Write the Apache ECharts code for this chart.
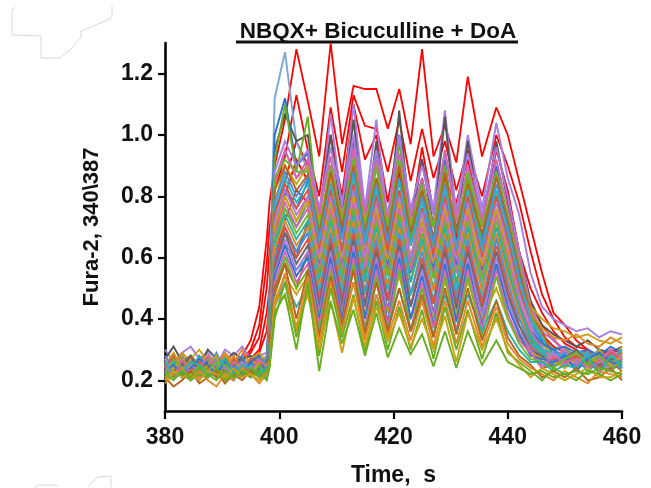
<!DOCTYPE html>
<html><head><meta charset="utf-8">
<style>html,body{margin:0;padding:0;background:#fff}#c{width:651px;height:488px;filter:blur(0.55px)}</style>
<script src="https://cdn.jsdelivr.net/npm/echarts@6/dist/echarts.min.js"></script>
</head><body><div id="c"></div>
<script>
const titleText = 'NBQX+ Bicuculline + DoA';
const xName = 'Time,  s';
const yName = 'Fura-2, 340\\387';
const yTicks = [0.2,0.4,0.6,0.8,1.0,1.2];
const xTicks = [380,400,420,440,460];
const times = [380,381.5,383,384.5,386,387.5,389,390.5,392,393.5,395,396.5,397.8,398.3,399.2,401,403,405,407,409,411,413,415,417,419,421,423,425,427,429,431,433,435.5,438,440,442,444,446,448,450,452,454,456,458,460];

const red1 = [.24,.25,.22,.26,.24,.25,.23,.27,.25,.28,.33,.44,.66,.78,.9,1.05,1.28,1.11,.93,1.30,.97,1.16,1.15,1.15,1.02,1.15,.97,1.28,.93,1.03,.91,1.19,.93,1.09,1.0,.85,.7,.55,.42,.38,.33,.3,.28,.3,.29];
const red2 = [.22,.24,.26,.23,.25,.22,.24,.23,.26,.27,.3,.38,.58,.7,.82,.93,1.13,.95,.8,1.09,.88,1.13,1.03,1.02,.88,1.05,.85,1.02,.86,.98,.82,.95,.8,1.0,.9,.78,.62,.48,.4,.34,.31,.3,.27,.29,.28];
const red3 = [.25,.23,.24,.27,.24,.26,.25,.28,.24,.26,.29,.34,.5,.62,.75,.85,.98,.9,.75,1.0,.8,1.1,.92,1.0,.78,1.0,.72,.96,.75,.85,.78,.92,.72,.95,.82,.62,.5,.42,.36,.32,.3,.27,.28,.26,.27];
const red4 = [.21,.23,.22,.25,.23,.22,.24,.22,.24,.25,.27,.3,.42,.5,.68,.8,.92,.85,.62,.9,.7,.95,.75,.9,.68,.88,.65,.85,.6,.88,.66,.85,.62,.88,.7,.55,.45,.38,.33,.3,.28,.26,.25,.27,.26];
const red5 = [.23,.22,.25,.24,.22,.24,.23,.25,.26,.24,.26,.29,.36,.45,.6,.72,.82,.78,.55,.8,.6,.85,.66,.82,.6,.78,.58,.75,.55,.78,.6,.8,.56,.8,.66,.5,.42,.35,.31,.29,.27,.28,.25,.26,.27];

const hi1 = [.26,.24,.28,.25,.23,.27,.24,.26,.24,.27,.25,.26,.28,.5,1.12,1.27,.98,.88,.62,.85,.6,.9,.6,.85,.58,.82,.58,.8,.56,.76,.55,.74,.52,.72,.58,.42,.34,.3,.28,.26,.28,.25,.27,.26,.24];
const hi2 = [.3,.26,.29,.31,.27,.29,.25,.3,.28,.31,.27,.28,.29,.4,.85,.95,.86,.9,.72,1.07,.76,1.1,.76,1.05,.72,1.0,.74,.92,.76,1.08,.74,1.0,.76,1.04,.86,.74,.55,.44,.4,.38,.36,.37,.34,.36,.35];
const hi3 = [.27,.31,.26,.28,.25,.3,.27,.26,.29,.27,.28,.26,.27,.38,.95,1.07,.98,1.0,.74,1.0,.72,1.05,.7,.98,.68,1.08,.7,.92,.7,1.06,.68,.98,.7,.98,.78,.62,.46,.38,.35,.33,.31,.33,.3,.29,.31];
const hi4 = [.23,.25,.22,.24,.26,.23,.25,.24,.22,.25,.24,.23,.26,.45,1.0,1.12,.9,.94,.68,.9,.7,.98,.68,.95,.66,1.0,.68,.86,.66,.92,.64,.88,.66,.9,.72,.55,.42,.33,.3,.27,.25,.27,.24,.26,.25];
const hi5 = [.22,.24,.21,.26,.23,.25,.22,.24,.25,.23,.26,.24,.25,.42,.92,1.1,.88,1.06,.7,.88,.68,.95,.66,.9,.64,.98,.66,.82,.64,.85,.62,.86,.65,.82,.68,.52,.4,.32,.28,.26,.27,.24,.25,.23,.26];

const mid01 = [.24,.27,.25,.23,.28,.25,.26,.24,.27,.25,.23,.26,.25,.36,.88,.98,.9,.95,.76,.96,.78,1.0,.76,.95,.74,1.0,.76,.9,.74,.95,.76,.94,.74,.96,.8,.62,.44,.36,.33,.3,.28,.3,.27,.29,.28];
const mid02 = [.26,.23,.27,.24,.22,.26,.28,.23,.25,.24,.27,.25,.23,.34,.84,.95,.86,.92,.74,.93,.72,.96,.74,.92,.72,.94,.73,.86,.7,.95,.72,.9,.72,.92,.76,.6,.43,.35,.34,.28,.29,.27,.26,.3,.27];
const mid03 = [.25,.22,.24,.28,.25,.23,.27,.25,.23,.26,.24,.28,.24,.33,.86,.92,.88,.88,.7,.9,.72,.92,.7,.9,.7,.92,.7,.84,.7,.9,.68,.88,.7,.88,.74,.58,.42,.34,.3,.31,.27,.26,.29,.27,.3];
const mid04 = [.21,.25,.23,.26,.24,.21,.25,.27,.24,.22,.25,.23,.26,.35,.82,.9,.82,.87,.68,.88,.7,.9,.68,.86,.67,.9,.68,.82,.66,.88,.68,.84,.68,.86,.72,.56,.42,.36,.28,.27,.3,.25,.28,.26,.29];
const mid05 = [.28,.24,.26,.22,.27,.24,.29,.23,.26,.28,.22,.25,.27,.32,.78,.88,.8,.86,.66,.84,.66,.88,.66,.84,.65,.86,.64,.8,.65,.84,.64,.82,.64,.84,.7,.54,.4,.32,.3,.28,.26,.29,.25,.27,.28];
const mid06 = [.23,.26,.22,.25,.27,.23,.21,.26,.24,.27,.23,.24,.22,.31,.76,.86,.78,.84,.64,.84,.63,.86,.64,.82,.62,.85,.64,.78,.62,.82,.63,.82,.62,.82,.68,.52,.4,.34,.27,.29,.28,.25,.3,.26,.27];
const mid07 = [.24,.21,.26,.28,.23,.25,.24,.22,.27,.24,.26,.22,.25,.34,.74,.84,.76,.82,.62,.82,.62,.84,.61,.8,.62,.82,.6,.76,.61,.8,.6,.8,.6,.8,.66,.5,.38,.3,.29,.26,.27,.3,.26,.28,.25];
const mid08 = [.22,.25,.27,.24,.2,.26,.23,.25,.22,.26,.24,.27,.23,.3,.72,.82,.74,.8,.6,.8,.59,.82,.6,.78,.58,.8,.6,.75,.58,.78,.59,.78,.58,.78,.64,.48,.38,.31,.26,.28,.29,.27,.24,.29,.26];
const mid09 = [.27,.23,.25,.21,.26,.28,.24,.26,.21,.25,.27,.24,.26,.32,.7,.8,.72,.78,.58,.78,.58,.8,.57,.76,.58,.78,.56,.72,.57,.76,.56,.76,.57,.76,.62,.46,.36,.32,.28,.25,.27,.26,.29,.26,.31];
const mid10 = [.23,.27,.24,.26,.22,.24,.27,.22,.25,.23,.21,.26,.24,.3,.68,.78,.7,.76,.56,.76,.56,.78,.56,.74,.55,.76,.56,.7,.54,.74,.55,.74,.54,.74,.6,.46,.36,.3,.27,.3,.25,.28,.27,.24,.27];
const mid11 = [.25,.22,.28,.23,.25,.27,.21,.24,.27,.22,.25,.23,.22,.29,.66,.76,.68,.74,.54,.74,.54,.76,.53,.72,.54,.74,.52,.68,.53,.72,.52,.72,.53,.72,.58,.44,.34,.28,.26,.27,.28,.24,.28,.27,.25];
const mid12 = [.2,.24,.26,.22,.28,.23,.25,.27,.23,.26,.22,.27,.25,.31,.65,.74,.66,.72,.52,.72,.52,.74,.52,.7,.51,.72,.52,.66,.5,.7,.51,.7,.5,.7,.56,.44,.34,.3,.25,.28,.26,.29,.25,.28,.26];
const mid13 = [.26,.24,.22,.27,.21,.25,.26,.23,.28,.24,.23,.25,.21,.28,.63,.72,.64,.7,.5,.7,.5,.72,.49,.68,.5,.7,.48,.64,.49,.68,.48,.68,.49,.68,.54,.42,.32,.27,.28,.24,.29,.27,.26,.25,.29];
const mid14 = [.22,.26,.23,.25,.24,.22,.28,.21,.24,.26,.25,.22,.27,.3,.6,.7,.62,.68,.48,.68,.48,.7,.48,.66,.47,.68,.48,.62,.46,.66,.47,.66,.46,.66,.52,.4,.32,.28,.25,.29,.24,.27,.3,.26,.24];
const mid15 = [.24,.28,.21,.23,.26,.24,.22,.26,.23,.21,.27,.26,.23,.29,.58,.7,.6,.66,.46,.66,.46,.68,.45,.64,.46,.66,.44,.6,.45,.64,.44,.64,.45,.64,.5,.38,.31,.26,.27,.26,.28,.25,.24,.29,.27];
const mid16 = [.21,.23,.25,.28,.22,.26,.24,.23,.25,.27,.22,.24,.26,.28,.56,.68,.58,.64,.44,.64,.44,.66,.44,.62,.43,.64,.44,.58,.42,.62,.43,.62,.42,.62,.48,.38,.3,.28,.24,.27,.3,.26,.25,.27,.26];
const mid17 = [.27,.22,.24,.25,.23,.21,.27,.24,.22,.26,.24,.21,.25,.27,.55,.66,.56,.62,.42,.62,.42,.64,.41,.6,.42,.62,.4,.56,.41,.6,.4,.6,.41,.6,.46,.36,.3,.25,.29,.25,.26,.28,.27,.23,.28];
const mid18 = [.23,.25,.22,.24,.27,.25,.22,.26,.24,.22,.26,.28,.22,.29,.54,.64,.54,.6,.4,.6,.4,.62,.4,.58,.39,.6,.4,.54,.38,.58,.39,.58,.38,.58,.44,.35,.28,.27,.26,.28,.23,.27,.29,.26,.25];
const mid19 = [.25,.21,.27,.22,.24,.28,.23,.21,.26,.25,.23,.27,.24,.27,.52,.62,.52,.58,.38,.58,.38,.6,.37,.56,.38,.58,.36,.52,.37,.56,.36,.56,.37,.56,.42,.33,.29,.24,.28,.26,.27,.24,.26,.3,.27];
const mid20 = [.22,.27,.24,.21,.25,.23,.26,.25,.22,.24,.21,.25,.22,.26,.5,.6,.5,.56,.36,.56,.36,.58,.36,.54,.35,.56,.36,.5,.34,.54,.35,.54,.34,.54,.4,.32,.27,.26,.24,.27,.29,.25,.28,.24,.26];
const mid21 = [.24,.22,.25,.27,.21,.24,.22,.27,.23,.21,.25,.22,.25,.28,.56,.64,.6,.72,.55,.7,.57,.74,.55,.72,.56,.74,.55,.68,.54,.72,.56,.7,.54,.7,.56,.42,.33,.28,.27,.25,.28,.26,.23,.27,.29];
const mid22 = [.21,.26,.23,.25,.22,.27,.24,.23,.21,.27,.23,.26,.21,.27,.7,.82,.76,.85,.66,.82,.68,.86,.64,.82,.66,.8,.64,.76,.62,.82,.64,.78,.64,.8,.66,.5,.38,.33,.3,.26,.25,.29,.28,.25,.27];
const mid23 = [.26,.24,.21,.23,.26,.22,.25,.21,.24,.23,.26,.21,.24,.28,.62,.76,.7,.78,.6,.76,.6,.78,.59,.74,.6,.76,.58,.72,.59,.74,.58,.74,.6,.74,.6,.46,.35,.29,.26,.29,.27,.23,.26,.28,.24];
const mid24 = [.22,.23,.26,.21,.24,.25,.21,.24,.27,.22,.24,.22,.23,.26,.48,.58,.5,.62,.44,.64,.46,.64,.44,.6,.46,.62,.44,.58,.45,.62,.46,.62,.44,.6,.47,.36,.29,.24,.25,.28,.24,.27,.25,.26,.23];
const mid25 = [.25,.29,.24,.27,.3,.26,.24,.28,.25,.23,.27,.29,.26,.31,.78,.9,.84,.9,.72,.86,.74,.88,.72,.84,.7,.84,.72,.78,.7,.84,.72,.82,.72,.8,.72,.58,.44,.4,.37,.36,.34,.35,.33,.32,.34];
const mid26 = [.27,.25,.29,.26,.24,.28,.25,.29,.26,.3,.25,.27,.24,.3,.66,.8,.72,.8,.64,.78,.66,.8,.64,.76,.62,.78,.64,.74,.62,.76,.64,.76,.62,.74,.64,.52,.42,.37,.34,.33,.35,.32,.31,.34,.32];
const mid27 = [.23,.21,.25,.22,.26,.24,.27,.22,.2,.24,.26,.23,.26,.28,.58,.68,.62,.7,.58,.68,.58,.7,.57,.66,.58,.68,.56,.64,.57,.68,.58,.66,.56,.66,.56,.44,.36,.32,.3,.31,.29,.3,.28,.31,.29];
const mid28 = [.24,.26,.21,.25,.23,.22,.26,.25,.23,.22,.25,.24,.21,.27,.5,.6,.56,.6,.5,.58,.5,.62,.48,.58,.5,.6,.48,.56,.47,.58,.5,.58,.48,.56,.46,.38,.32,.3,.29,.27,.3,.28,.29,.27,.3];
const mid29 = [.21,.24,.27,.23,.22,.25,.28,.2,.26,.24,.22,.26,.25,.26,.46,.54,.48,.54,.42,.54,.42,.56,.42,.52,.42,.54,.4,.5,.4,.52,.42,.52,.4,.5,.4,.34,.29,.27,.26,.24,.27,.25,.3,.25,.28];
const mid30 = [.26,.22,.23,.26,.25,.21,.23,.27,.22,.25,.24,.22,.24,.27,.44,.52,.44,.5,.36,.5,.38,.52,.36,.48,.37,.5,.36,.46,.35,.48,.36,.48,.36,.46,.36,.3,.26,.26,.23,.25,.24,.28,.22,.28,.25];

const low1 = [.22,.2,.23,.21,.24,.22,.2,.23,.21,.22,.24,.21,.23,.25,.42,.48,.3,.52,.23,.455,.32,.43,.28,.42,.275,.37,.285,.35,.245,.36,.24,.36,.25,.33,.26,.24,.22,.23,.21,.22,.23,.22,.24,.23,.22];
const low2 = [.2,.23,.21,.22,.2,.23,.22,.21,.24,.21,.22,.2,.23,.26,.47,.47,.38,.48,.3,.46,.29,.47,.31,.44,.33,.42,.31,.4,.3,.41,.26,.42,.3,.4,.3,.25,.21,.24,.22,.2,.22,.24,.21,.21,.23];
const low3 = [.23,.21,.22,.2,.22,.21,.24,.2,.22,.23,.21,.23,.2,.24,.4,.52,.34,.5,.28,.5,.34,.48,.29,.46,.3,.44,.3,.43,.27,.44,.3,.43,.27,.42,.29,.26,.23,.2,.24,.22,.2,.23,.22,.2,.22];
const low4 = [.19,.22,.24,.2,.23,.2,.18,.22,.2,.24,.22,.19,.22,.25,.44,.55,.36,.54,.32,.52,.36,.52,.33,.48,.34,.46,.33,.46,.31,.46,.32,.46,.31,.44,.32,.27,.24,.22,.2,.23,.21,.19,.23,.22,.21];
const low5 = [.21,.18,.2,.23,.19,.21,.23,.19,.22,.2,.23,.21,.22,.27,.5,.58,.4,.56,.34,.54,.38,.56,.35,.52,.36,.5,.36,.48,.34,.5,.35,.5,.33,.46,.34,.28,.25,.21,.23,.21,.24,.2,.21,.24,.2];

const redTraces = [red1,red2,red3,red4,red5];
const otherTraces = [hi1,hi2,hi3,hi4,hi5,mid01,mid25,mid22,mid02,mid03,mid23,mid04,mid26,mid05,mid06,mid07,mid21,mid08,mid09,mid27,mid10,mid11,mid12,mid24,mid13,mid14,mid28,mid15,mid16,mid17,mid29,mid18,mid19,mid20,mid30,low5,low4,low3,low2,low1];
const hiColors = ['#7aa9d8','#a67fe0','#555555','#2f6fd0','#68ad20'];
const palette = ['#e0892a','#4a90d9','#2ab5c4','#e0523f','#6a6a6a','#a87de0','#c9a214','#2f73d6','#d565b0','#72b52c','#25b3a8','#b5651d'];
const redColor = '#ff0000';

const line = (d,color,w) => ({type:'line',data:d.map((v,i)=>[times[i],v]),showSymbol:false,silent:true,
  lineStyle:{color,width:w,join:'miter',miterLimit:3},itemStyle:{color},clip:true});
const series = [
  ...redTraces.map(d=>line(d,redColor,1.8)),
  ...otherTraces.map((d,i)=>{
    let c = i<hiColors.length ? hiColors[i] : palette[i%palette.length];
    if(d===low1||d===low3) c='#68ad20';
    if(d===low2) c='#c9a214';
    return line(d,c,1.9);
  })
];
const ghost = {stroke:'#d8d8d8',fill:'none',lineWidth:1};
const chart = echarts.init(document.getElementById('c'),null,{renderer:'canvas'});
chart.setOption({
  animation:false,backgroundColor:'#fff',
  title:{text:titleText,left:373,top:15,textAlign:'center',textStyle:{fontFamily:'Liberation Sans',fontWeight:'bold',fontSize:22.5,color:'#111'}},
  grid:{left:165,right:29,top:43,bottom:77,outerBoundsMode:'none'},
  xAxis:{type:'value',min:380,max:460,interval:20,name:xName,nameLocation:'middle',nameGap:53,
    nameTextStyle:{fontFamily:'Liberation Sans',fontWeight:'bold',fontSize:23,color:'#111'},
    axisLine:{show:true,onZero:false,lineStyle:{color:'#000',width:2.6}},
    axisTick:{show:true,length:8,lineStyle:{color:'#000',width:2.2},customValues:xTicks},
    axisLabel:{customValues:xTicks,margin:15,fontFamily:'Liberation Sans',fontWeight:'bold',fontSize:23,color:'#111'},
    splitLine:{show:false}},
  yAxis:{type:'value',min:0.1,max:1.3,name:yName,nameLocation:'middle',nameGap:62,nameRotate:90,
    nameTextStyle:{fontFamily:'Liberation Sans',fontWeight:'bold',fontSize:22,color:'#111'},
    axisLine:{show:true,onZero:false,lineStyle:{color:'#000',width:2.6}},
    axisTick:{show:true,length:7,lineStyle:{color:'#000',width:2.2},customValues:yTicks},
    axisLabel:{customValues:yTicks,margin:12,fontFamily:'Liberation Sans',fontWeight:'bold',fontSize:23,color:'#111',formatter:v=>v.toFixed(1)},
    splitLine:{show:false}},
  graphic:[
    {type:'line',shape:{x1:236,y1:42,x2:518,y2:42},style:{stroke:'#111',lineWidth:3}},
    {type:'polyline',shape:{points:[[15,7],[12,10],[12,35],[41,36],[41,58],[60,58],[70,50],[81,37],[81,31],[110,19],[112,16],[112,6]]},style:ghost},
    {type:'polyline',shape:{points:[[35,487],[38,485],[56,485],[58,487]]},style:ghost},
    {type:'polyline',shape:{points:[[88,487],[97,477],[111,476],[111,487]]},style:ghost}
  ],
  series
});
</script></body></html>
